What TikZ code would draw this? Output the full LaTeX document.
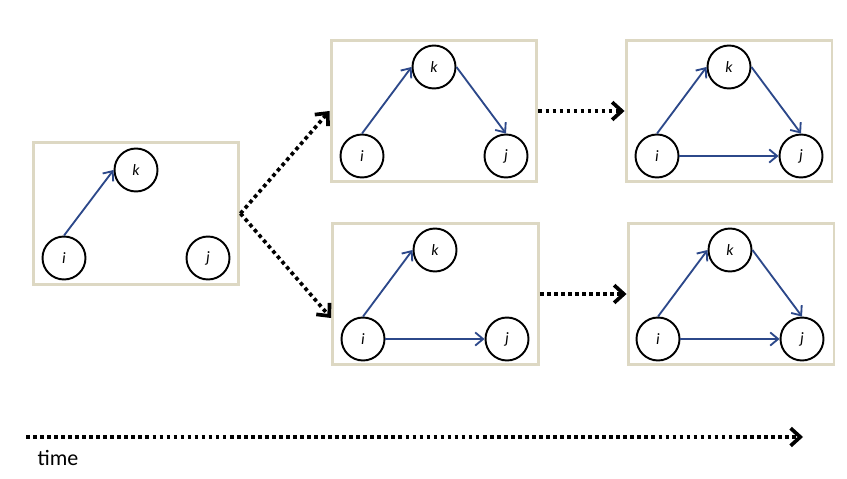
\documentclass[tikz,border=0pt]{standalone}
\usepackage{fontspec}
\setmainfont{Carlito}
\usetikzlibrary{arrows.meta,positioning}
\definecolor{panelline}{RGB}{221,216,195}
\definecolor{linkblue}{RGB}{44,72,138}

\begin{document}
\begin{tikzpicture}[x=0.02cm,y=-0.02cm,
    panel/.style={draw=panelline,line width=1.7pt,minimum width=4.12cm,minimum height=2.84cm,inner sep=0pt},
    vertex/.style={circle,draw,line width=1.1pt,minimum size=0.86cm,inner sep=0pt,font=\fontsize{9}{10}\selectfont\itshape},
    link/.style={color=linkblue,line width=1.05pt,-{Straight Barb[length=4.5pt,width=7.5pt]}},
    flow/.style={line width=2.1pt,dash pattern=on 2.1pt off 1.9pt,-{Straight Barb[length=5.5pt,width=10pt,line width=2.1pt]}}]
    \useasboundingbox (0,0) rectangle (847,479);

    % panels
    \node[panel] (A) at (136,213.5) {};
    \node[panel] (B) at (434,111) {};
    \node[panel] (C) at (435.5,294) {};
    \node[panel] (D) at (729,111) {};
    \node[panel] (E) at (731,294) {};

    % t
    \node[vertex] (Ak) at (136,170) {k};
    \node[vertex] (Ai) at (64,258) {i};
    \node[vertex] (Aj) at (208,258) {j};
    \path[link] (Ai.north) edge (Ak.west);

    % t+1, first case
    \node[vertex] (Bk) at (434,67) {k};
    \node[vertex] (Bi) at (362,156) {i};
    \node[vertex] (Bj) at (506,156) {j};
    \path[link] (Bi.north) edge (Bk.west)
                (Bk.east) edge (Bj.north);

    % t+1, second case
    \node[vertex] (Ck) at (435,250) {k};
    \node[vertex] (Ci) at (363,339) {i};
    \node[vertex] (Cj) at (507,339) {j};
    \path[link] (Ci.north) edge (Ck.west)
                (Ci.east) edge (Cj.west);

    % t+2
    \node[vertex] (Dk) at (729,67) {k};
    \node[vertex] (Di) at (657,156) {i};
    \node[vertex] (Dj) at (801,156) {j};
    \path[link] (Di.north) edge (Dk.west)
                (Dk.east) edge (Dj.north)
                (Di.east) edge (Dj.west);

    \node[vertex] (Ek) at (730,250) {k};
    \node[vertex] (Ei) at (658,339) {i};
    \node[vertex] (Ej) at (802,339) {j};
    \path[link] (Ei.north) edge (Ek.west)
                (Ek.east) edge (Ej.north)
                (Ei.east) edge (Ej.west);

    % transitions
    \path[flow] (A.east) edge (B.west)
                (A.east) edge ([yshift=-0.48cm]C.west)
                (B.east) edge (D.west)
                (C.east) edge (E.west);

    % time axis
    \coordinate (t0) at (26,437);
    \coordinate (t1) at (803,437);
    \draw[flow] (t0) -- (t1);
    \node[font=\fontsize{12.5}{14}\selectfont] (time) at (58,458) {time};
\end{tikzpicture}
\end{document}
